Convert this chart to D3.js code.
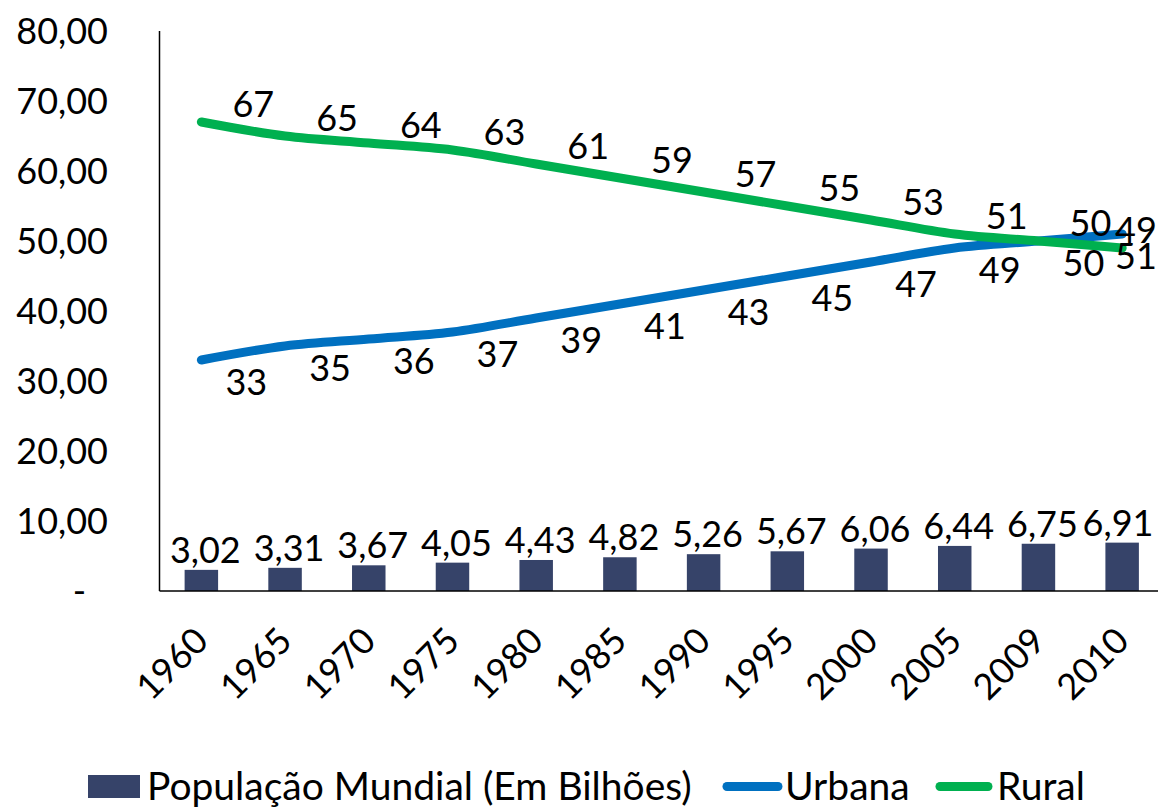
<!DOCTYPE html>
<html><head><meta charset="utf-8">
<script src="https://cdn.jsdelivr.net/npm/d3@7"></script>
<style>body{margin:0;background:#fff;overflow:hidden}svg{display:block}text{font-family:Lato,"Open Sans",sans-serif;fill:#000}</style>
</head><body>
<script>
const categories = ["1960","1965","1970","1975","1980","1985","1990","1995","2000","2005","2009","2010"];
const populacao = [3.02,3.31,3.67,4.05,4.43,4.82,5.26,5.67,6.06,6.44,6.75,6.91];
const urbana = [33,35,36,37,39,41,43,45,47,49,50,51];
const rural = [67,65,64,63,61,59,57,55,53,51,50,49];
const yTicks = [0,10,20,30,40,50,60,70,80];
const legendLabels = ["População Mundial (Em Bilhões)","Urbana","Rural"];

(function(){
const W = 1158, H = 808;
const pLeft = 159.5, pRight = 1164, pTop = 31, pBottom = 591;
const FS = 36, LFS = 39;
const cBar = "#364369", cUrb = "#0070c0", cRur = "#00b050";

const svg = d3.select("body").append("svg").attr("width", W).attr("height", H);
const x = d3.scaleBand().domain(categories).range([pLeft, pRight]).paddingInner(0.6).paddingOuter(0.3);
const y = d3.scaleLinear().domain([0, 80]).range([pBottom, pTop]);
const cx = c => x(c) + x.bandwidth() / 2;
const fmt = v => v === 0 ? "-" : v.toFixed(2).replace(".", ",");

svg.append("g").selectAll("text").data(yTicks).join("text")
  .attr("x", d => d === 0 ? 86 : 108).attr("y", d => y(d))
  .attr("dy", "0.35em").attr("text-anchor", "end").attr("font-size", FS)
  .text(fmt);

svg.append("g").selectAll("rect").data(populacao).join("rect")
  .attr("x", (d, i) => x(categories[i])).attr("width", x.bandwidth())
  .attr("y", d => y(d)).attr("height", d => y(0) - y(d)).attr("fill", cBar);

svg.append("line").attr("x1", pLeft).attr("x2", pLeft).attr("y1", pTop).attr("y2", pBottom).attr("stroke", "#000").attr("stroke-width", 1.5);
svg.append("line").attr("x1", pLeft).attr("x2", pRight).attr("y1", pBottom).attr("y2", pBottom).attr("stroke", "#000").attr("stroke-width", 1.5);

const line = d3.line().x((d, i) => cx(categories[i])).y(d => y(d)).curve(d3.curveCatmullRom.alpha(0.5));
[[urbana, cUrb], [rural, cRur]].forEach(([s, c]) => {
  svg.append("path").attr("d", line(s)).attr("fill", "none").attr("stroke", c)
    .attr("stroke-width", 9).attr("stroke-linecap", "round").attr("stroke-linejoin", "round");
});

svg.append("g").selectAll("text").data(populacao).join("text")
  .attr("x", (d, i) => Math.min(cx(categories[i]) + 4, 1118)).attr("y", d => y(d) - 7)
  .attr("text-anchor", "middle").attr("font-size", FS).text(d => d.toFixed(2).replace(".", ","));

function lineLabels(s, dx, dy) {
  svg.append("g").selectAll("text").data(s).join("text")
    .attr("x", (d, i) => Math.min(cx(categories[i]) + dx, 1136)).attr("y", d => y(d) + dy)
    .attr("dy", "0.35em").attr("text-anchor", "middle").attr("font-size", FS).text(d => d);
}
lineLabels(rural, 52, -18);
lineLabels(urbana, 45, 22);

svg.append("g").selectAll("text").data(categories).join("text")
  .attr("transform", d => `translate(${cx(d) + 9},${pBottom + 52}) rotate(-45)`)
  .attr("text-anchor", "end").attr("font-size", FS).text(d => d);

const ly = 786.5;
svg.append("rect").attr("x", 88).attr("y", ly - 11.5).attr("width", 52).attr("height", 23).attr("fill", cBar);
svg.append("text").attr("x", 147).attr("y", ly).attr("dy", "0.35em").attr("font-size", LFS).text(legendLabels[0]);
svg.append("line").attr("x1", 727).attr("x2", 778).attr("y1", ly).attr("y2", ly).attr("stroke", cUrb).attr("stroke-width", 9).attr("stroke-linecap", "round");
svg.append("text").attr("x", 785).attr("y", ly).attr("dy", "0.35em").attr("font-size", LFS).text(legendLabels[1]);
svg.append("line").attr("x1", 940).attr("x2", 988).attr("y1", ly).attr("y2", ly).attr("stroke", cRur).attr("stroke-width", 9).attr("stroke-linecap", "round");
svg.append("text").attr("x", 997).attr("y", ly).attr("dy", "0.35em").attr("font-size", LFS).text(legendLabels[2]);
})();
</script>
</body></html>
